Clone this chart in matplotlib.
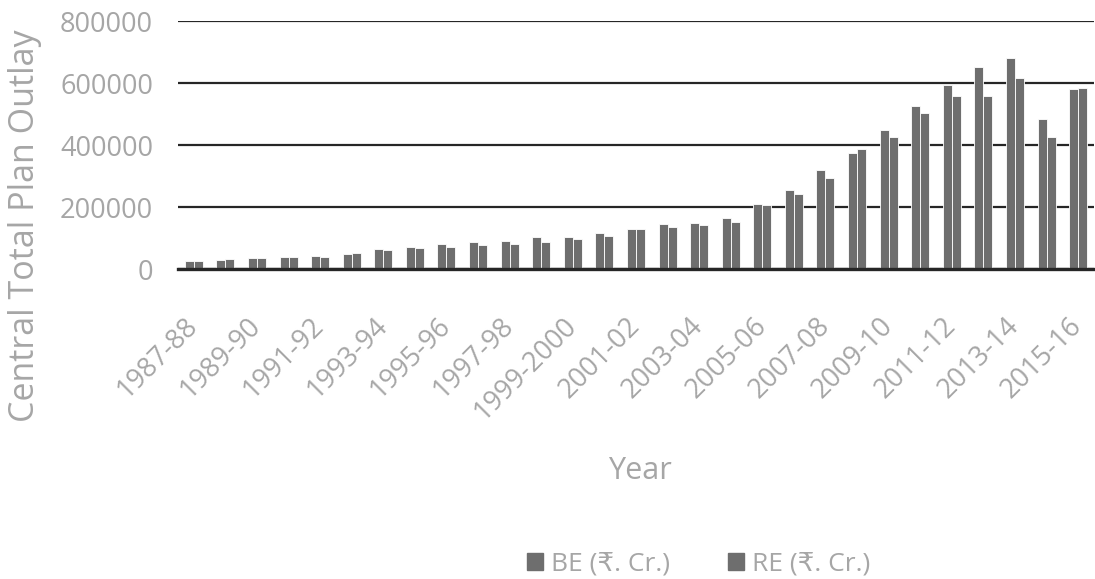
import matplotlib.pyplot as plt
import numpy as np
from matplotlib.patches import Patch

# Financial years, 1987-88 to 2015-16
years = ['1987-88', '1988-89', '1989-90', '1990-91', '1991-92', '1992-93',
         '1993-94', '1994-95', '1995-96', '1996-97', '1997-98', '1998-99',
         '1999-2000', '2000-01', '2001-02', '2002-03', '2003-04', '2004-05',
         '2005-06', '2006-07', '2007-08', '2008-09', '2009-10', '2010-11',
         '2011-12', '2012-13', '2013-14', '2014-15', '2015-16']

# Budget estimates and revised estimates (Rs. crore)
be = [24500, 29000, 35500, 39700, 43000, 49500, 64500, 71000, 80600, 87000,
      91700, 104700, 103700, 117700, 129700, 145000, 148000, 163000, 210700,
      253400, 320400, 375400, 448900, 525200, 593200, 652800, 681900, 485400,
      579300]
re = [24500, 31000, 35500, 38700, 40000, 50500, 61300, 68700, 72000, 78500,
      80000, 88500, 96200, 108000, 128600, 137000, 141600, 151300, 206400,
      242700, 293500, 387400, 425000, 502600, 558900, 557600, 614900, 427200,
      583500]

bar_color = '#6e6e6e'
text_color = '#a6a6a6'
plt.rcParams['font.family'] = ['Open Sans', 'DejaVu Sans']

fig = plt.figure(figsize=(10.95, 5.79), dpi=100)
ax = fig.add_axes([0.1626, 0.5354, 0.8364, 0.4283])

x = np.arange(len(years))
w = 0.285
ax.bar(x - w / 2, be, w, color=bar_color, edgecolor='white', linewidth=0.6,
       zorder=3)
ax.bar(x + w / 2, re, w, color=bar_color, edgecolor='white', linewidth=0.6,
       zorder=3)

ax.set_xlim(-0.5, len(years) - 0.5)
ax.set_ylim(0, 800000)
ax.set_yticks(np.arange(0, 800001, 200000))
ax.yaxis.grid(True, color='#262626', linewidth=1.6, zorder=1)
ax.set_axisbelow(True)

for s in ['top', 'right', 'left']:
    ax.spines[s].set_visible(False)
ax.spines['bottom'].set_color('#262626')
ax.spines['bottom'].set_linewidth(2.4)
ax.spines['bottom'].set_zorder(4)

ax.tick_params(axis='both', length=0, labelsize=19.5, labelcolor=text_color)
ax.tick_params(axis='y', pad=18)
ax.set_xticks(x[::2])
ax.set_xticklabels(years[::2], rotation=45, ha='right', rotation_mode='anchor',
                   va='center')
ax.tick_params(axis='x', pad=38)

fig.text(0.584, 0.186, 'Year', fontsize=22, color=text_color, ha='center',
         va='center')
fig.text(0.023, 0.61, 'Central Total Plan Outlay', fontsize=24.5,
         color=text_color, rotation=90, ha='center', va='center')

handles = [Patch(color=bar_color, label='BE (₹. Cr.)'),
           Patch(color=bar_color, label='RE (₹. Cr.)')]
fig.legend(handles=handles, loc='center', bbox_to_anchor=(0.638, 0.026),
           ncol=2, frameon=False, fontsize=19, labelcolor=text_color,
           handlelength=0.6, handleheight=0.6, handletextpad=0.3,
           columnspacing=2.2)

fig.savefig('out.png', dpi=100)
